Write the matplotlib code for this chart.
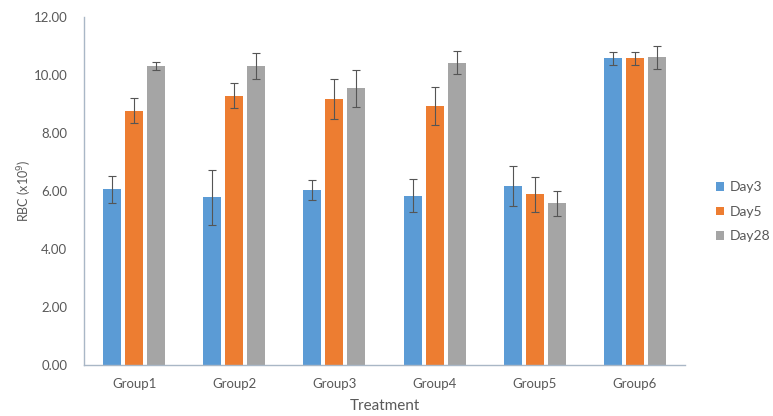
import numpy as np
import matplotlib
matplotlib.use("Agg")
import matplotlib.pyplot as plt

plt.rcParams['font.family'] = ['Lato', 'DejaVu Sans']

groups = ["Group1", "Group2", "Group3", "Group4", "Group5", "Group6"]
series = ["Day3", "Day5", "Day28"]
day3 = [6.06, 5.78, 6.03, 5.84, 6.18, 10.57]
day5 = [8.77, 9.28, 9.17, 8.94, 5.88, 10.57]
day28 = [10.31, 10.31, 9.54, 10.43, 5.57, 10.61]
day3_err = [0.46, 0.94, 0.35, 0.57, 0.69, 0.23]
day5_err = [0.42, 0.43, 0.70, 0.66, 0.61, 0.23]
day28_err = [0.15, 0.44, 0.63, 0.41, 0.44, 0.40]
yticks = [0, 2, 4, 6, 8, 10, 12]

colors = ["#5B9BD5", "#ED7D31", "#A5A5A5"]
text_color = "#595959"

fig = plt.figure(figsize=(7.73, 4.16), dpi=100)
ax = fig.add_axes([84 / 773, 51 / 416, 601 / 773, 348 / 416])

x = np.arange(len(groups))
width = 0.18
step = 0.22
for i, (vals, errs, name) in enumerate(zip([day3, day5, day28],
                                           [day3_err, day5_err, day28_err],
                                           series)):
    ax.bar(x + (i - 1) * step, vals, width, color=colors[i], label=name,
           yerr=errs, error_kw=dict(ecolor="#555555", elinewidth=0.8,
                                    capsize=3, capthick=0.8), zorder=2)

ax.set_xlim(-0.5, len(groups) - 0.5)
ax.set_ylim(0, 12)
ax.set_yticks(yticks)
ax.set_yticklabels([f"{v:.2f}" for v in yticks])
ax.set_xticks(x)
ax.set_xticklabels(groups)
ax.tick_params(axis="both", length=0, colors=text_color, labelsize=9.5)
ax.tick_params(axis="y", pad=12)
ax.tick_params(axis="x", pad=9)

for s in ["top", "right"]:
    ax.spines[s].set_visible(False)
for s in ["left", "bottom"]:
    ax.spines[s].set_color("#A9B7C6")
    ax.spines[s].set_linewidth(1.0)

ax.set_xlabel("Treatment", color=text_color, fontsize=11, labelpad=7)
ax.set_ylabel("RBC (x10$^9$)", color=text_color, fontsize=9, labelpad=0)

leg = ax.legend(loc="center left", bbox_to_anchor=(1.03, 0.44), frameon=False,
                fontsize=10, handlelength=0.6, handleheight=0.6,
                handletextpad=0.4, labelspacing=0.9)
for t in leg.get_texts():
    t.set_color(text_color)

fig.savefig("out.png", dpi=100)
